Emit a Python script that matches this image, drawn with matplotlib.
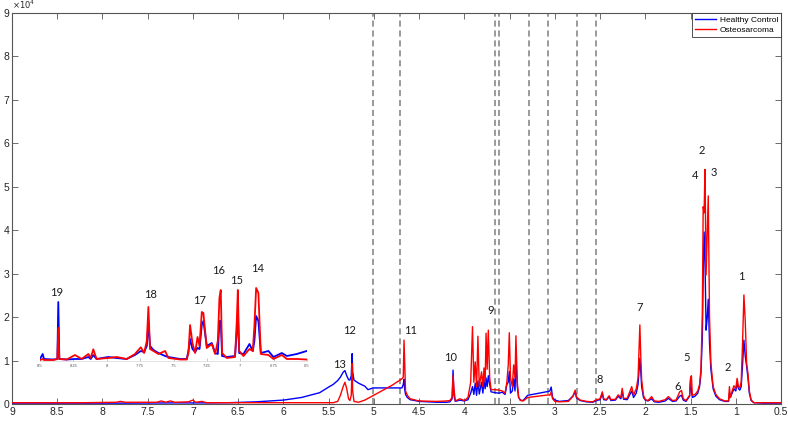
import matplotlib
matplotlib.use("Agg")
import matplotlib.pyplot as plt

plt.rcParams['font.family'] = ['Liberation Sans', 'DejaVu Sans']

# chemical shift grid (ppm) shared by both spectra
ppm = [9.00, 8.20, 7.85, 7.80, 7.75, 7.40, 7.35, 7.30, 7.25, 7.20, 7.05, 7.00, 6.97, 6.90, 6.85,
       6.60, 6.30, 6.00, 5.80, 5.60, 5.50, 5.45, 5.40, 5.37, 5.34, 5.32, 5.30, 5.28, 5.265, 5.25,
       5.24, 5.235, 5.22, 5.17, 5.10, 5.065, 5.01, 4.90, 4.80, 4.69, 4.675, 4.667, 4.66, 4.65,
       4.63, 4.60, 4.50, 4.30, 4.20, 4.16, 4.135, 4.125, 4.115, 4.10, 4.05, 4.00, 3.96, 3.93,
       3.91, 3.895, 3.88, 3.865, 3.85, 3.835, 3.82, 3.81, 3.795, 3.783, 3.77, 3.76, 3.748, 3.735,
       3.72, 3.705, 3.66, 3.62, 3.58, 3.55, 3.53, 3.515, 3.503, 3.49, 3.47, 3.455, 3.44, 3.43,
       3.415, 3.40, 3.38, 3.35, 3.30, 3.07, 3.055, 3.04, 3.025, 3.00, 2.95, 2.85, 2.80, 2.775,
       2.76, 2.72, 2.65, 2.58, 2.55, 2.50, 2.475, 2.46, 2.43, 2.40, 2.38, 2.33, 2.30, 2.27, 2.255,
       2.24, 2.20, 2.15, 2.13, 2.10, 2.08, 2.06, 2.05, 2.04, 2.02, 2.00, 1.97, 1.93, 1.90, 1.85,
       1.78, 1.745, 1.70, 1.66, 1.62, 1.60, 1.58, 1.55, 1.51, 1.50, 1.49, 1.48, 1.45, 1.42, 1.40,
       1.385, 1.37, 1.36, 1.35, 1.34, 1.328, 1.315, 1.304, 1.29, 1.275, 1.25, 1.22, 1.18, 1.12,
       1.08, 1.07, 1.06, 1.04, 1.02, 1.00, 0.985, 0.97, 0.955, 0.94, 0.925, 0.91, 0.895, 0.88,
       0.865, 0.85, 0.83, 0.80, 0.70, 0.50]

healthy = [200, 200, 200, 200, 200, 250, 250, 250, 250, 250, 250, 250, 250, 250, 250,
           300, 500, 900, 1500, 2600, 3900, 4500, 5400, 6200, 7300, 7700, 6500, 5600, 5500, 6500,
           11600, 7500, 5500, 4800, 4100, 3300, 3700, 3700, 3700, 3700, 4500, 5700, 3500, 2200,
           1500, 1000, 600, 400, 400, 500, 1200, 7800, 2000, 600, 900, 700, 1000, 2500,
           4000, 2200, 4800, 2000, 5300, 2300, 4000, 5000, 2500, 5600, 3500, 6000, 4000, 6500,
           4500, 2800, 2600, 2500, 2700, 2200, 4500, 5000, 7500, 2500, 3000, 5800, 3000, 10900,
           4000, 1500, 900, 800, 2000, 2900, 3000, 3900, 1500, 900, 600, 800, 1800, 2800,
           1400, 800, 500, 400, 700, 1000, 2300, 1000, 900, 1700, 800, 900, 1800, 1200, 3000,
           1100, 1000, 3000, 1500, 2500, 4500, 10500, 7500, 4000, 1500, 900, 700, 1200, 500, 400,
           700, 1300, 600, 700, 1800, 2000, 900, 600, 1800, 5500, 3000, 1500, 1800, 2500, 4000,
           7000, 15000, 30000, 39600, 33000, 17000, 20000, 24100, 14000, 8000, 3500, 1800, 1000, 600,
           600, 2500, 1500, 2500, 3500, 3000, 4800, 3500, 3200, 4000, 9000, 14700, 11000, 8700,
           6000, 2500, 800, 300, 200, 200]

osteo = [300, 300, 400, 600, 400, 400, 700, 400, 700, 400, 500, 900, 400, 600, 300,
         300, 300, 300, 300, 300, 300, 300, 600, 2000, 4000, 5000, 3500, 1200, 800, 2000,
         9300, 3000, 600, 400, 900, 1300, 1900, 3200, 4300, 5800, 6200, 14700, 10000, 3000,
         2000, 1200, 700, 600, 700, 800, 1500, 6600, 3500, 700, 1200, 800, 1500, 5000,
         17800, 5000, 9700, 4000, 15600, 4000, 6000, 7400, 4000, 8300, 5000, 16300, 8000, 17000,
         6000, 3300, 3300, 3200, 3000, 2500, 5000, 9000, 16400, 6000, 4000, 9000, 6000, 15700,
         5000, 1500, 800, 700, 1500, 2100, 2000, 2800, 1200, 600, 500, 600, 1800, 3200,
         1600, 900, 600, 500, 900, 1200, 2800, 1200, 1000, 1900, 1000, 1100, 2100, 1500, 3600,
         1300, 1300, 4000, 2100, 3500, 6000, 18200, 11000, 5500, 2000, 1000, 800, 1700, 700, 600,
         1000, 1700, 800, 900, 2800, 3100, 1200, 800, 2000, 6000, 6500, 2000, 2200, 3000, 4500,
         8000, 20000, 45400, 44000, 54000, 29700, 40000, 47900, 20000, 9400, 4000, 2200, 1200, 700,
         700, 4000, 1500, 3000, 4200, 3500, 5900, 4000, 3800, 5000, 14000, 25100, 19000, 9400,
         7000, 3000, 900, 300, 300, 300]

# aromatic region shown in the inset (arbitrary units)
ins_ppm = [8.50, 8.48, 8.47, 8.40, 8.37, 8.363, 8.355, 8.30, 8.238, 8.188, 8.138, 8.12, 8.101,
           8.076, 7.989, 7.926, 7.851, 7.789, 7.745, 7.72, 7.70, 7.688, 7.676, 7.65, 7.613, 7.563,
           7.538, 7.45, 7.401, 7.388, 7.376, 7.358, 7.338, 7.32, 7.305, 7.288, 7.276, 7.251, 7.213,
           7.188, 7.168, 7.156, 7.146, 7.136, 7.101, 7.039, 7.026, 7.018, 7.008, 6.976, 6.931,
           6.906, 6.894, 6.881, 6.864, 6.846, 6.789, 6.751, 6.689, 6.651, 6.577, 6.502]
ins_healthy = [2, 7, 2, 1.5, 2, 59, 2, 1.5, 2, 2, 4, 2, 6,
               2, 4, 3, 2, 6, 10, 9, 15, 39, 15, 11, 8, 5,
               4, 2, 2, 10, 22, 12, 9, 13, 12, 36, 40, 15, 18,
               8, 7, 40, 40, 5, 4, 5, 30, 47, 8, 7, 17,
               10, 20, 45, 40, 8, 10, 4, 8, 5, 7, 10]
ins_osteo = [1, 2, 1, 1, 2, 33, 2, 1.5, 6, 2, 7, 3, 11.7,
             2, 3, 4, 2, 7, 13.7, 8, 20, 54, 12, 10, 7, 10,
             3, 1.5, 1.5, 8, 36, 18, 8, 24, 15, 49, 48, 13, 17,
             7, 20, 63, 71, 8, 3, 4, 40, 71, 10, 5, 12,
             10, 35, 73, 68, 7, 6, 2, 6, 2, 2, 1.5]

# boundaries of the integrated bins
bin_edges = [5.01, 4.71, 3.66, 3.62, 3.29, 3.07, 2.75, 2.55]

# peak numbers: (text, ppm, height)
peak_labels = [("13", 5.375, 9200), ("12", 5.275, 17000), ("11", 4.60, 17000),
               ("10", 4.148, 10800), ("9", 3.706, 21600), ("8", 2.50, 5750),
               ("7", 2.064, 22100), ("6", 1.64, 4140), ("5", 1.54, 10600),
               ("4", 1.45, 52700), ("2", 1.373, 58400), ("3", 1.24, 53400),
               ("2", 1.086, 8500), ("1", 0.943, 29400)]
inset_labels = [("19", 8.373, 69), ("18", 7.676, 67), ("17", 7.302, 61),
                ("16", 7.159, 91), ("15", 7.024, 81), ("14", 6.867, 93)]

x_ticks = [9, 8.5, 8, 7.5, 7, 6.5, 6, 5.5, 5, 4.5, 4, 3.5, 3, 2.5, 2, 1.5, 1, 0.5]
y_ticks = [0, 10000, 20000, 30000, 40000, 50000, 60000, 70000, 80000, 90000]
inset_ticks = [8.5, 8.25, 8, 7.75, 7.5, 7.25, 7, 6.75, 6.5]

axis_col = '#555555'
label_font = 'Lato'

fig = plt.figure(figsize=(7.88, 4.23), dpi=100)
ax = fig.add_axes([12 / 788, 19 / 423, 769 / 788, 391 / 423])

for e in bin_edges:
    ax.axvline(e, color='#7f7f7f', lw=1.1, ls=(0, (4, 2.5)), zorder=1)

ax.plot(ppm, healthy, color='#0000ff', lw=1.0, label='Healthy Control', zorder=3)
ax.plot(ppm, osteo, color='#ff0000', lw=1.0, label='Osteosarcoma', zorder=3)

ax.set_xlim(9, 0.5)
ax.set_ylim(0, 90000)
ax.set_xticks(x_ticks)
ax.set_xticklabels(['%g' % t for t in x_ticks])
ax.set_yticks(y_ticks)
ax.set_yticklabels(['%d' % (t / 10000) for t in y_ticks])
ax.tick_params(direction='in', length=4, width=0.6, colors=axis_col, labelsize=7.5,
               top=True, right=True, labelcolor='#262626', pad=2)
for s in ax.spines.values():
    s.set_color(axis_col)
    s.set_linewidth(0.8)
ax.text(0.0, 1.004, r'$\times10^4$', transform=ax.transAxes, fontsize=6,
        color='#262626', ha='left', va='bottom')

leg = ax.legend(loc='upper right', fontsize=6, borderaxespad=0, handlelength=2.6,
                fancybox=False, framealpha=1, borderpad=0.35, labelspacing=0.3,
                handletextpad=0.4)
leg.get_frame().set_edgecolor('#333333')
leg.get_frame().set_linewidth(0.6)

for txt, x, y in peak_labels:
    ax.text(x, y, txt, fontsize=8, family=label_font, ha='center', va='center', color='#1a1a1a')

# inset with the aromatic region
axins = fig.add_axes([40 / 788, (423 - 361) / 423, 267 / 788, 75 / 423])
axins.patch.set_alpha(0)
axins.plot(ins_ppm, ins_healthy, color='#0000ff', lw=1.3)
axins.plot(ins_ppm, ins_osteo, color='#ff0000', lw=1.3)
axins.set_xlim(8.5, 6.5)
axins.set_ylim(0, 75)
axins.set_yticks([])
axins.set_xticks(inset_ticks)
axins.set_xticklabels(['%g' % t for t in inset_ticks])
axins.tick_params(axis='x', direction='in', length=2, width=0.4, colors='#999999',
                  labelsize=3, labelcolor='#555555', pad=2)
for k in ['top', 'left', 'right']:
    axins.spines[k].set_visible(False)
axins.spines['bottom'].set_color('#cccccc')
axins.spines['bottom'].set_linewidth(0.4)
for txt, x, y in inset_labels:
    axins.text(x, y, txt, fontsize=8, family=label_font, ha='center', va='center',
               color='#1a1a1a', clip_on=False)

fig.savefig('out.png', dpi=100)
